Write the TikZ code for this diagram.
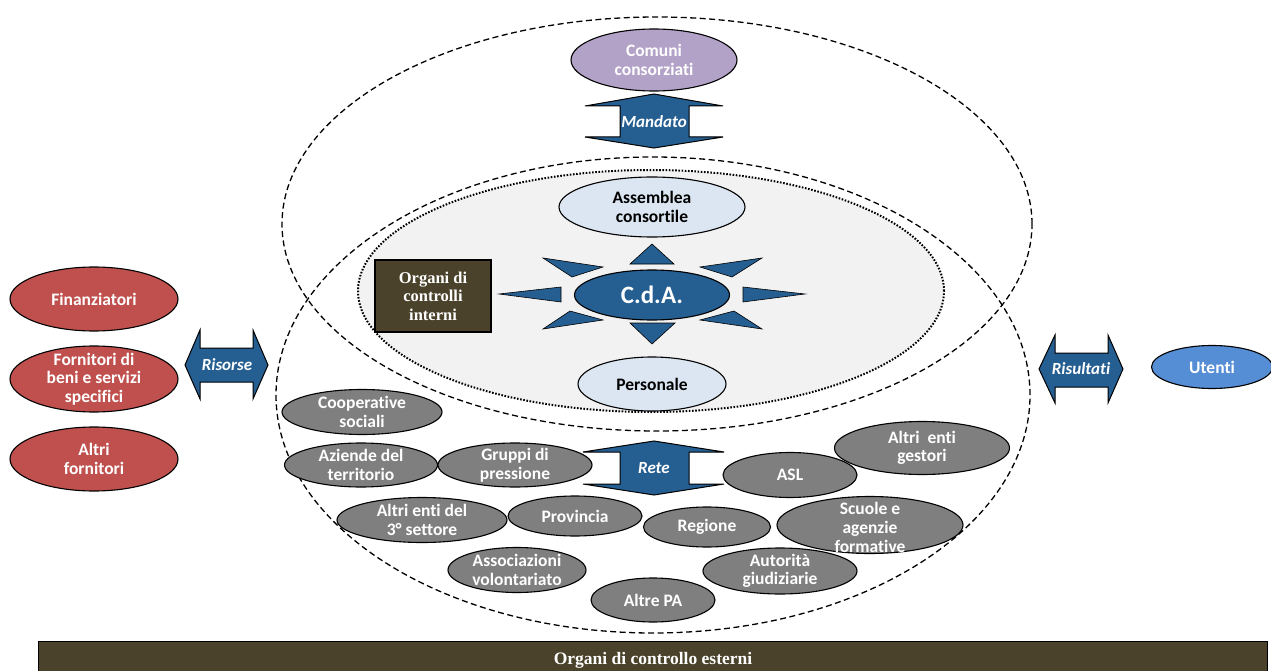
\documentclass[tikz,border=0pt]{standalone}
\usepackage{fontspec}
\setmainfont[Ligatures={NoCommon}]{Carlito}
\newfontfamily\serifb{Liberation Serif}
\usetikzlibrary{shapes.geometric}
\definecolor{dblue}{RGB}{37,94,145}
\definecolor{lav}{RGB}{179,162,199}
\definecolor{lblue}{RGB}{220,230,242}
\definecolor{redd}{RGB}{192,80,77}
\definecolor{grayy}{RGB}{127,127,127}
\definecolor{ublue}{RGB}{85,142,213}
\definecolor{olive}{RGB}{74,66,42}
\definecolor{innergray}{RGB}{242,242,242}
\tikzset{
  ell/.style={ellipse, draw=black, line width=1.1pt, inner sep=0pt},
  txt/.style={font=\bfseries\fontsize{17.5}{18.5}\selectfont, text=white, align=center, inner sep=0pt},
  btxt/.style={txt, text=black},
  lbl/.style={font=\bfseries\itshape\fontsize{17}{18}\selectfont, text=white, inner sep=0pt},
  barrow/.style={fill=dblue, draw=black, line width=1pt, line join=miter},
  ray/.style={fill=dblue, draw=black, line width=0.6pt},
  dashell/.style={draw=black, line width=1.3pt, dash pattern=on 6pt off 3.5pt},
}
\begin{document}
\begin{tikzpicture}[x=1pt,y=-1pt]
\useasboundingbox (0,0) rectangle (1271,671);
% big dashed ellipses
\draw[dashell] (657,224) ellipse [x radius=375pt, y radius=207pt];
\draw[dashell] (653,395) ellipse [x radius=377pt, y radius=238pt];
% inner dotted ellipse
\draw[fill=innergray, line width=2pt, dash pattern=on 1.6pt off 1.6pt] (651,291) ellipse [x radius=293pt, y radius=121pt];

% Comuni consorziati
\node[ell, fill=lav, minimum width=166pt, minimum height=62pt] (comuni) at (654,60) {};
\node[txt] (comunit) at (comuni) {Comuni\\consorziati};
% Mandato arrow
\filldraw[barrow] (654,94) -- (723,106) -- (689,106) -- (689,137) -- (723,137) -- (654,148) -- (585,137) -- (620,137) -- (620,106) -- (585,106) -- cycle;
\node[lbl] (mandato) at (654,122) {Mandato};

% Assemblea, CdA, Personale
\node[ell, fill=lblue, minimum width=186pt, minimum height=60pt] (assemblea) at (652,207) {};
\node[btxt] (assembleat) at (assemblea) {Assemblea\\consortile};
\node[ell, fill=dblue, minimum width=155pt, minimum height=50pt] (cda) at (652,295) {};
\node[txt, font=\bfseries\fontsize{25}{26}\selectfont] (cdat) at (cda) {C.d.A.};
\node[ell, fill=lblue, minimum width=148pt, minimum height=54pt] (personale) at (652,384) {};
\node[btxt] (personalet) at (personale) {Personale};

% rays
\filldraw[ray] (630,264) -- (674,264) -- (652,244) -- cycle;
\filldraw[ray] (630,323) -- (675,323) -- (652,344) -- cycle;
\filldraw[ray] (499,294) -- (561,287) -- (561,302) -- cycle;
\filldraw[ray] (805,294) -- (743,287) -- (743,302) -- cycle;
\filldraw[ray] (543,258) -- (572,277) -- (603,267) -- cycle;
\filldraw[ray] (762,258) -- (732,277) -- (700,267) -- cycle;
\filldraw[ray] (543,329) -- (570,311) -- (603,320) -- cycle;
\filldraw[ray] (762,329) -- (734,311) -- (700,320) -- cycle;

% Organi di controlli interni
\node[draw=black, line width=1.1pt, fill=olive, minimum width=116pt, minimum height=72pt, inner sep=0pt] (interni) at (433,296) {};
\node[font=\serifb\bfseries\fontsize{16.5}{18.5}\selectfont, text=white, align=center, inner sep=0pt] (internit) at (interni) {Organi di\\controlli\\interni};

% left red ellipses
\node[ell, fill=redd, minimum width=168pt, minimum height=64pt] (fin) at (94,299) {};
\node[txt] (fint) at (fin) {Finanziatori};
\node[ell, fill=redd, minimum width=168pt, minimum height=66pt] (forn) at (94,379) {};
\node[txt] (fornt) at (forn) {Fornitori di\\beni e servizi\\specifici};
\node[ell, fill=redd, minimum width=168pt, minimum height=64pt] (altrif) at (94,459) {};
\node[txt] (altrift) at (altrif) {Altri\\fornitori};

% Risorse arrow
\filldraw[barrow] (185,365) -- (200,330) -- (200,348) -- (253,348) -- (253,330) -- (268,365) -- (253,399) -- (253,382) -- (200,382) -- (200,399) -- cycle;
\node[lbl] (risorse) at (227,365) {Risorse};

% Risultati arrow
\filldraw[barrow] (1039,369) -- (1055,335) -- (1055,353) -- (1108,353) -- (1108,335) -- (1123,369) -- (1108,403) -- (1108,387) -- (1055,387) -- (1055,403) -- cycle;
\node[lbl] (risultati) at (1081,369) {Risultati};

% Utenti
\node[ell, fill=ublue, minimum width=121pt, minimum height=43pt] (utenti) at (1212,367) {};
\node[txt] (utentit) at (utenti) {Utenti};

% Rete arrow
\filldraw[barrow] (654,441) -- (724,452) -- (689,452) -- (689,484) -- (724,484) -- (654,495) -- (583,484) -- (620,484) -- (620,452) -- (583,452) -- cycle;
\node[lbl] (rete) at (654,468) {Rete};

% gray ellipses
\tikzset{gell/.style={ell, fill=grayy}}
\node[gell, minimum width=160pt, minimum height=45pt] (coop) at (362,412) {};
\node[txt] (coopt) at (coop) {Cooperative\\sociali};
\node[gell, minimum width=153pt, minimum height=44pt] (aziende) at (361,465) {};
\node[txt] (aziendet) at (aziende) {Aziende del\\territorio};
\node[gell, minimum width=154pt, minimum height=44pt] (gruppi) at (515,465) {};
\node[txt] (gruppit) at (gruppi) {Gruppi di\\pressione};
\node[gell, minimum width=170pt, minimum height=45pt] (terzo) at (422,520) {};
\node[txt] (terzot) at (terzo) {Altri enti del\\3° settore};
\node[gell, minimum width=134pt, minimum height=40pt] (provincia) at (575,516) {};
\node[txt] (provinciat) at (provincia) {Provincia};
\node[gell, minimum width=138pt, minimum height=45pt] (assoc) at (517,570) {};
\node[txt] (assoct) at (assoc) {Associazioni\\volontariato};
\node[gell, minimum width=124pt, minimum height=44pt] (altrepa) at (653,600) {};
\node[txt] (altrepat) at (altrepa) {Altre PA};
\node[gell, minimum width=127pt, minimum height=40pt] (regione) at (707,527) {};
\node[txt] (regionet) at (regione) {Regione};
\node[gell, minimum width=134pt, minimum height=45pt] (asl) at (790,475) {};
\node[txt] (aslt) at (asl) {ASL};
\node[gell, minimum width=175pt, minimum height=53pt] (gestori) at (922,448) {};
\node[txt] (gestorit) at (gestori) {Altri\ \ enti\\gestori};
\node[gell, minimum width=186pt, minimum height=57pt] (scuole) at (870,525) {};
\node[txt, font=\bfseries\fontsize{17.5}{19}\selectfont] (scuolet) at (870,527) {Scuole e\\agenzie\\formative};
\node[gell, minimum width=154pt, minimum height=46pt] (autorita) at (780,571) {};
\node[txt] (autoritat) at (autorita) {Autorità\\giudiziarie};

% bottom bar
\node[draw=black, line width=1.1pt, fill=olive, minimum width=1229pt, minimum height=34pt, inner sep=0pt, anchor=north west] (esterni) at (38,641) {};
\node[font=\serifb\bfseries\fontsize{17.5}{20}\selectfont, text=white, inner sep=0pt] (esternit) at (653,660) {Organi di controllo esterni};
\end{tikzpicture}
\end{document}
